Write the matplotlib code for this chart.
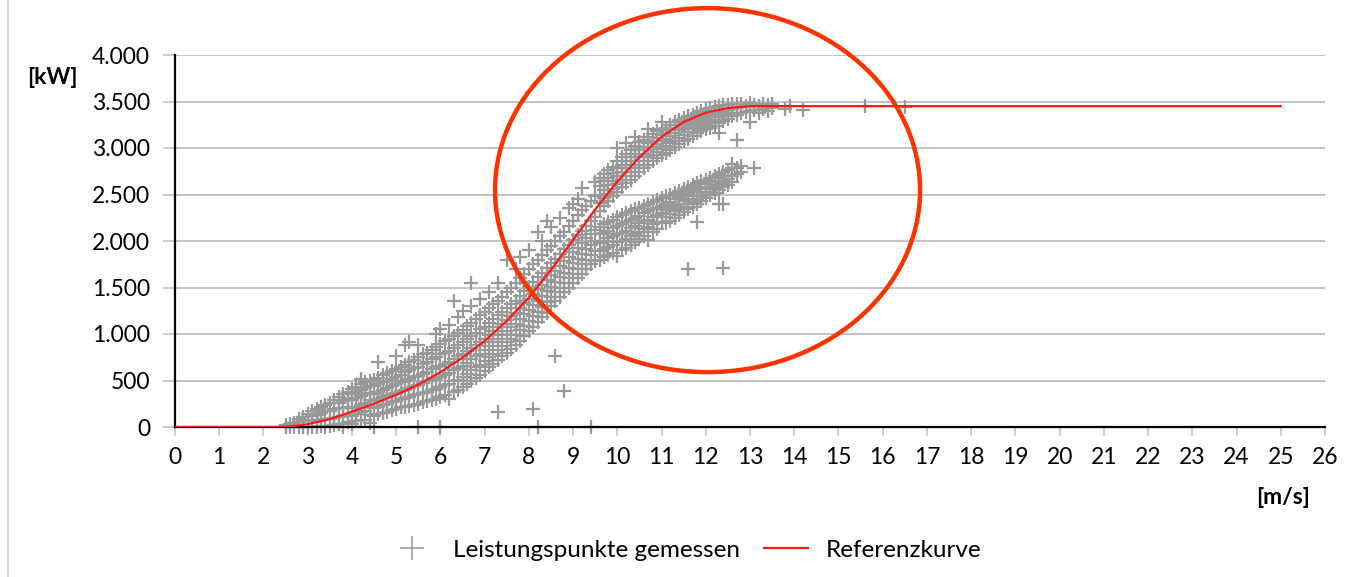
import matplotlib
matplotlib.use("Agg")
import matplotlib.pyplot as plt
from matplotlib.patches import Ellipse
from matplotlib.lines import Line2D

# ---------------- data ----------------
# reference power curve (wind speed m/s -> kW)
ref_wind = [0, 2.5, 3.0, 3.5, 4.0, 4.5, 5.0, 5.5, 6.0, 6.5, 7.0, 7.5, 8.0, 8.5,
            9.0, 9.5, 10.0, 10.5, 11.0, 11.5, 12.0, 12.5, 13.0, 25.0]
ref_power = [0, 0, 30, 85, 165, 250, 345, 455, 590, 745, 925, 1140, 1390, 1690,
             2010, 2340, 2640, 2900, 3120, 3280, 3380, 3430, 3450, 3450]

# measured points, main band (columns: wind speed -> list of power values)
main_x = [2.5, 2.6, 2.7, 2.8, 2.9, 3.0, 3.1, 3.2, 3.3, 3.4, 3.5, 3.6, 3.7, 3.8, 3.9,
          4.0, 4.1, 4.2, 4.3, 4.4, 4.5, 4.6, 4.7, 4.8, 4.9, 5.0, 5.1, 5.2, 5.3, 5.4,
          5.5, 5.6, 5.7, 5.8, 5.9, 6.0, 6.1, 6.2, 6.3, 6.4, 6.5, 6.6, 6.7, 6.8, 6.9,
          7.0, 7.1, 7.2, 7.3, 7.4, 7.5, 7.6, 7.7, 7.8, 7.9, 8.0, 8.1, 8.2, 8.3, 8.4,
          8.5, 8.6, 8.7, 8.8, 8.9, 9.0, 9.1, 9.2, 9.3, 9.4, 9.5]
main_y = [[0, 20], [0, 30], [0, 40], [0, 50, 90], [0, 60, 110], [0, 70, 140],
          [0, 60, 120, 170], [0, 70, 130, 190], [10, 80, 150, 220], [0, 90, 170, 240],
          [10, 90, 170, 260], [20, 100, 190, 290], [30, 110, 200, 260, 320],
          [0, 120, 200, 280, 350], [50, 130, 210, 300, 380], [30, 120, 200, 290, 360, 410],
          [60, 140, 220, 310, 380, 430], [70, 160, 240, 330, 400, 460, 520],
          [80, 170, 260, 350, 420, 480], [40, 130, 210, 290, 370, 440, 500],
          [0, 120, 200, 280, 360, 440, 510], [140, 220, 300, 380, 460, 530, 700],
          [150, 240, 320, 400, 480, 560], [160, 250, 340, 420, 500, 580],
          [180, 270, 360, 440, 520, 600], [190, 280, 370, 460, 540, 620, 760],
          [210, 300, 390, 480, 560, 650], [220, 310, 400, 500, 590, 670, 880],
          [230, 320, 420, 520, 610, 700, 910], [240, 340, 440, 540, 630, 720],
          [0, 250, 350, 450, 550, 650, 750, 880], [270, 370, 470, 570, 680, 780],
          [280, 380, 490, 590, 700, 800], [290, 400, 510, 620, 730, 830],
          [300, 410, 520, 640, 750, 860, 1000], [0, 320, 430, 540, 660, 780, 890, 1050],
          [340, 450, 560, 680, 800, 920], [300, 460, 580, 700, 820, 950, 1100],
          [380, 490, 610, 730, 850, 980, 1350], [400, 510, 630, 760, 880, 1010, 1180],
          [430, 540, 660, 790, 910, 1040, 1250], [460, 570, 690, 820, 950, 1090],
          [500, 610, 730, 850, 980, 1120, 1300, 1550], [530, 640, 760, 880, 1010, 1160],
          [560, 670, 790, 910, 1050, 1200, 1380], [600, 710, 830, 950, 1080, 1240],
          [640, 750, 870, 990, 1120, 1280, 1450], [680, 790, 910, 1030, 1160, 1320],
          [160, 720, 830, 950, 1070, 1200, 1360, 1550], [760, 870, 990, 1110, 1240, 1400],
          [800, 910, 1030, 1150, 1280, 1450, 1800], [840, 950, 1070, 1190, 1320, 1500],
          [880, 990, 1110, 1230, 1360, 1550, 1700], [930, 1040, 1160, 1280, 1410, 1600, 1830],
          [980, 1090, 1210, 1330, 1460, 1650], [1030, 1140, 1260, 1380, 1510, 1700, 1900],
          [190, 1080, 1190, 1310, 1430, 1560, 1750],
          [0, 1130, 1240, 1360, 1480, 1610, 1800, 2100],
          [1180, 1290, 1410, 1530, 1660, 1850, 2000], [1230, 1340, 1460, 1580, 1710, 1900, 2210],
          [1300, 1400, 1510, 1630, 1760, 1950, 2150], [760, 1350, 1450, 1560, 1680, 1810, 2000],
          [1400, 1500, 1610, 1730, 1860, 2050, 2250], [390, 1450, 1550, 1660, 1780, 1910, 2100],
          [1500, 1600, 1710, 1830, 1960, 2160, 2350], [1550, 1650, 1760, 1880, 2010, 2220, 2400],
          [1600, 1700, 1810, 1930, 2060, 2280, 2450], [1650, 1750, 1860, 1980, 2110, 2330, 2570],
          [1700, 1800, 1910, 2030, 2160, 2380], [0, 1750, 1850, 1960, 2080, 2210, 2430],
          [1780, 1890, 2000, 2120, 2260, 2480, 2630]]

# upper branch above 9.5 m/s
upper_x = [9.6, 9.7, 9.8, 9.9, 10.0, 10.1, 10.2, 10.3, 10.4, 10.5, 10.6, 10.7, 10.8,
           10.9, 11.0, 11.1, 11.2, 11.3, 11.4, 11.5, 11.6, 11.7, 11.8, 11.9, 12.0, 12.1,
           12.2, 12.3, 12.4, 12.5, 12.6, 12.7, 12.8, 12.9, 13.0, 13.1, 13.2, 13.3, 13.4,
           13.5, 13.8, 13.9, 14.2, 15.6, 16.5]
upper_y = [[2320, 2410, 2500, 2590, 2680], [2380, 2460, 2550, 2640, 2720],
           [2430, 2510, 2600, 2680, 2760], [2480, 2560, 2650, 2730, 2800],
           [2530, 2610, 2700, 2780, 2860, 3000], [2580, 2660, 2740, 2820, 2900],
           [2620, 2700, 2780, 2860, 2940, 3050], [2660, 2740, 2820, 2900, 2980],
           [2700, 2780, 2860, 2940, 3020, 3120], [2740, 2820, 2900, 2980, 3060],
           [2780, 2860, 2940, 3010, 3090], [2820, 2900, 2980, 3050, 3120, 3200],
           [2860, 2930, 3010, 3080, 3150], [2890, 2960, 3040, 3110, 3180],
           [2920, 2990, 3070, 3140, 3200, 3280], [2950, 3020, 3100, 3160, 3220],
           [2980, 3050, 3130, 3190, 3250], [3010, 3080, 3160, 3220, 3280],
           [3040, 3110, 3190, 3250, 3300], [3070, 3140, 3210, 3270, 3320],
           [3100, 3170, 3240, 3290, 3340], [3130, 3200, 3260, 3310, 3360],
           [3160, 3220, 3280, 3330, 3380], [3180, 3240, 3300, 3350, 3400],
           [3200, 3260, 3320, 3370, 3420], [3220, 3280, 3340, 3390, 3430],
           [3240, 3300, 3360, 3400, 3440], [3160, 3270, 3330, 3380, 3450],
           [3290, 3350, 3400, 3460], [3310, 3360, 3410, 3460], [3340, 3380, 3420, 3470],
           [3090, 3360, 3430, 3470], [3380, 3440, 3470], [3390, 3450],
           [3280, 3400, 3450, 3480], [3410, 3460], [3380, 3450], [3420, 3470], [3400, 3460],
           [3430, 3470], [3420], [3450], [3410], [3450], [3440]]

# lower (derated) branch
lower_x = [9.6, 9.7, 9.8, 9.9, 10.0, 10.1, 10.2, 10.3, 10.4, 10.5, 10.6, 10.7, 10.8,
           10.9, 11.0, 11.1, 11.2, 11.3, 11.4, 11.5, 11.6, 11.7, 11.8, 11.9, 12.0, 12.1,
           12.2, 12.3, 12.4, 12.5, 12.6, 12.7, 12.8, 13.1]
lower_y = [[1800, 1890, 1980, 2070, 2150], [1830, 1910, 2000, 2090, 2180],
           [1850, 1940, 2030, 2110, 2200], [1870, 1960, 2050, 2140, 2230],
           [1840, 1990, 2070, 2160, 2260], [1900, 2000, 2090, 2180, 2280],
           [1930, 2020, 2110, 2200, 2300], [1960, 2050, 2140, 2230, 2320],
           [1990, 2080, 2160, 2250, 2340], [2020, 2100, 2190, 2270, 2360],
           [2050, 2130, 2210, 2300, 2380], [2010, 2150, 2230, 2320, 2400],
           [2100, 2180, 2260, 2340, 2420], [2130, 2200, 2280, 2360, 2440],
           [2200, 2300, 2380, 2460], [2190, 2260, 2330, 2400, 2480],
           [2220, 2290, 2350, 2420, 2500], [2250, 2320, 2380, 2450, 2520],
           [2280, 2340, 2400, 2470, 2540], [2310, 2370, 2430, 2500, 2560],
           [1700, 2340, 2400, 2450, 2520, 2580], [2370, 2420, 2480, 2540, 2600],
           [2200, 2400, 2450, 2500, 2560, 2620], [2430, 2480, 2530, 2580, 2640],
           [2460, 2510, 2560, 2610, 2660], [2490, 2530, 2580, 2630, 2680],
           [2520, 2560, 2600, 2650, 2700], [2400, 2550, 2590, 2630, 2680, 2720],
           [1710, 2400, 2580, 2620, 2650, 2700, 2740], [2600, 2670, 2760],
           [2630, 2700, 2780, 2830], [2720, 2790], [2740, 2810], [2790]]

x_ticks = list(range(0, 27))
y_ticks = [0, 500, 1000, 1500, 2000, 2500, 3000, 3500, 4000]
label_y = "[kW]"
label_x = "[m/s]"
legend_meas = "Leistungspunkte gemessen"
legend_ref = "Referenzkurve"

# ---------------- flatten measured points ----------------
meas_x, meas_y = [], []
for xs, ys in ((main_x, main_y), (upper_x, upper_y), (lower_x, lower_y)):
    for xv, col in zip(xs, ys):
        for yv in col:
            meas_x.append(xv)
            meas_y.append(yv)

# ---------------- figure ----------------
plt.rcParams['font.family'] = ['Lato', 'DejaVu Sans']
W, H = 1345, 577
fig = plt.figure(figsize=(W / 100, H / 100), dpi=100)
ax = fig.add_axes([175 / W, 1 - 427 / H, 1150 / W, 372 / H])

grid_col = '#c3c3c3'
ax.set_xlim(0, 26)
ax.set_ylim(0, 4000)
ax.set_yticks(y_ticks)
ax.set_xticks(x_ticks)
ax.set_yticklabels([f"{v:,}".replace(",", ".") for v in y_ticks])
ax.set_xticklabels([str(v) for v in x_ticks])
ax.grid(axis='y', color=grid_col, linewidth=1.4, zorder=0)
ax.set_axisbelow(True)
for s in ('top', 'right'):
    ax.spines[s].set_visible(False)
for s in ('left', 'bottom'):
    ax.spines[s].set_color('black')
    ax.spines[s].set_linewidth(1.6)
    ax.spines[s].set_zorder(3)
ax.tick_params(axis='y', direction='out', length=9, width=1.2, color=grid_col,
               pad=9, labelsize=16.5)
ax.tick_params(axis='x', direction='out', length=6.5, width=1.2, color=grid_col,
               pad=8, labelsize=16.5)

ax.plot(meas_x, meas_y, linestyle='none', marker='+', markersize=10,
        markeredgewidth=1.6, color='#999999', clip_on=False, zorder=2,
        label=legend_meas)
ax.plot(ref_wind, ref_power, color='#ff1a1a', linewidth=1.6, zorder=4,
        label=legend_ref)

ell = Ellipse((12.04, 2547), 9.61, 3914, fill=False, edgecolor='#ff3300',
              linewidth=3.2, zorder=5, clip_on=False)
ax.add_patch(ell)

fig.text(52 / W, 1 - 77 / H, label_y, fontsize=16.5, fontweight='bold',
         ha='center', va='center')
fig.text(1283 / W, 1 - 497 / H, label_x, fontsize=16.5, fontweight='bold',
         ha='center', va='center')

h_meas = Line2D([], [], linestyle='none', marker='+', markersize=17,
                markeredgewidth=1.2, color='#a0a0a0')
h_ref = Line2D([], [], color='#ff1a1a', linewidth=1.6)
fig.legend([h_meas, h_ref], [legend_meas, legend_ref], loc='center',
           bbox_to_anchor=(686 / W, 1 - 550 / H), ncol=2, frameon=False,
           fontsize=17.5, handlelength=1.8, columnspacing=1.0, handletextpad=0.75)

# light frame line on left edge
fig.add_artist(Line2D([7.5 / W, 7.5 / W], [0, 1], color='#d0d0d0', linewidth=1.2,
                      transform=fig.transFigure))

fig.savefig('out.png', dpi=100)
